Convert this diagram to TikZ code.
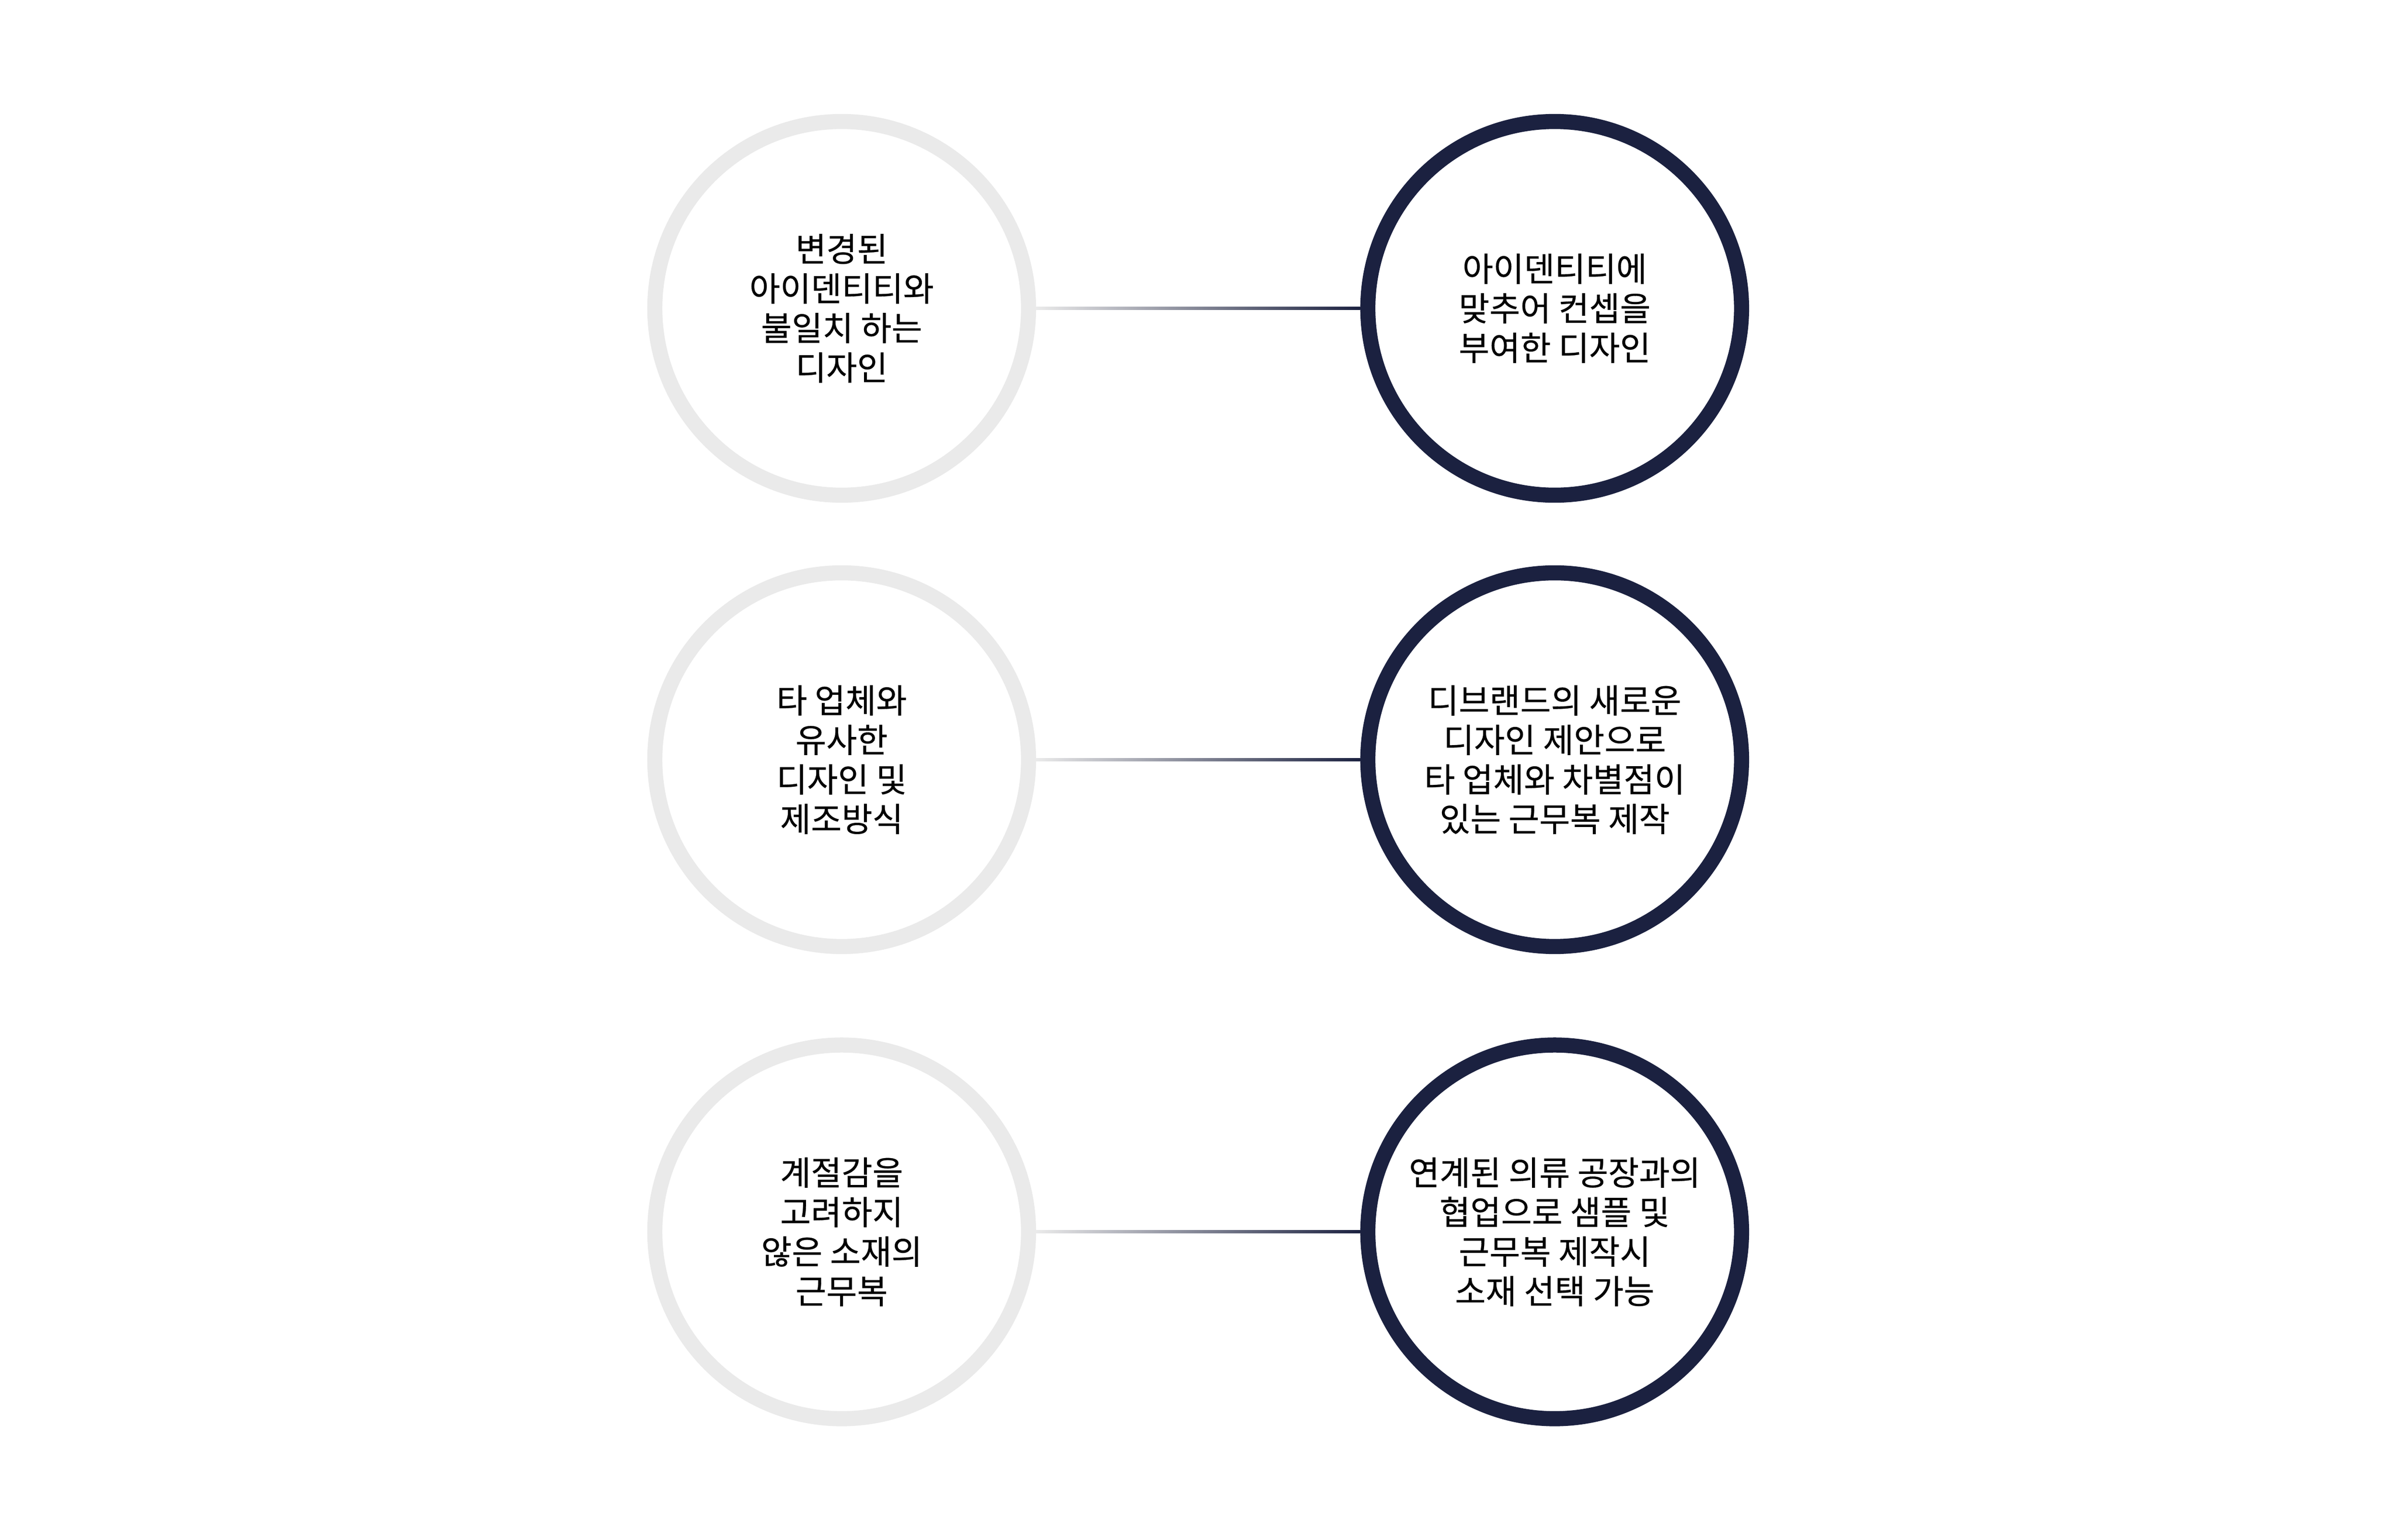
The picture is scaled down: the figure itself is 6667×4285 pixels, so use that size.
\documentclass[tikz,border=0pt]{standalone}
\usepackage{fontspec}
\setmainfont{Noto Sans CJK KR}
\newfontfamily\circlefont{Noto Sans CJK KR}[FakeBold=0.4]
\usepackage{tikz}
\definecolor{ringgray}{HTML}{EAEAEA}
\definecolor{navy}{HTML}{1B2140}
\tikzstyle{Before}=[circle, minimum size=104pt, line width=4.2pt, draw=ringgray, align=center, font=\circlefont\fontsize{9.3}{11}\selectfont]
\tikzstyle{After}=[Before, draw=navy]
\tikzstyle{Link}=[left color=ringgray, right color=navy]

\begin{document}
\begin{tikzpicture}[x=0.1pt, y=-0.1pt]
    \useasboundingbox (0,0) rectangle (6667,4285);
    \path
    (2342,858) node[Before] (old1) {변경된\\아이덴티티와\\불일치 하는\\디자인}
    (4326,858) node[After] (new1) {아이덴티티에\\맞추어 컨셉을\\부여한 디자인}
    (2342,2114) node[Before] (old2) {타 업체와\\유사한\\디자인 및\\제조방식}
    (4326,2114) node[After] (new2) {디브랜드의 새로운\\디자인 제안으로\\타 업체와 차별점이\\있는 근무복 제작}
    (2342,3428) node[Before] (old3) {계절감을\\고려하지\\않은 소재의\\근무복}
    (4326,3428) node[After] (new3) {연계된 의류 공장과의\\협업으로 샘플 및\\근무복 제작시\\소재 선택 가능};

    \path[Link] ([yshift=-0.4pt]old1.east) rectangle ([yshift=0.4pt]new1.west);
    \path[Link] ([yshift=-0.4pt]old2.east) rectangle ([yshift=0.4pt]new2.west);
    \path[Link] ([yshift=-0.4pt]old3.east) rectangle ([yshift=0.4pt]new3.west);
\end{tikzpicture}
\end{document}
